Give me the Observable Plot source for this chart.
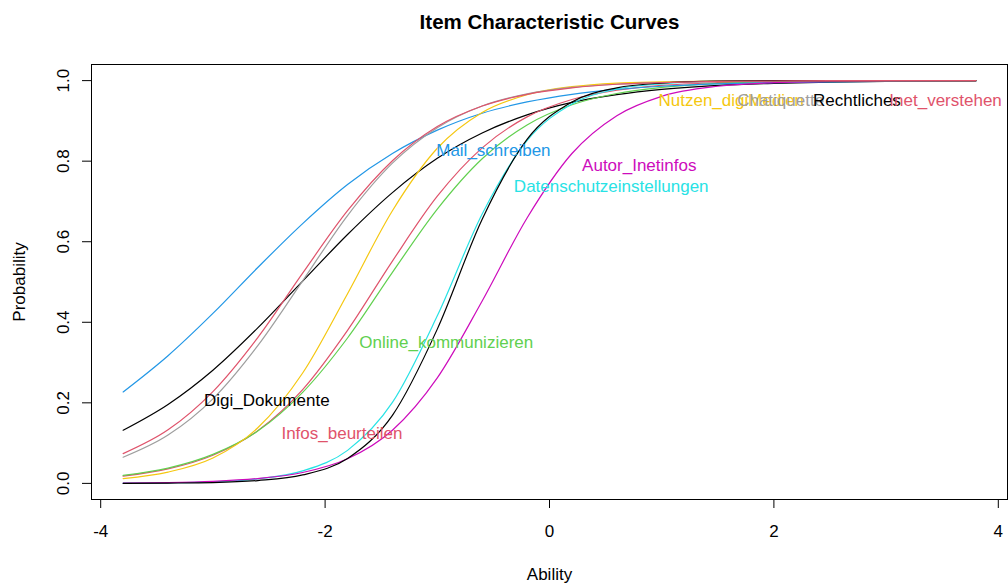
<!DOCTYPE html>
<html><head><meta charset="utf-8">
<script src="https://cdn.jsdelivr.net/npm/d3@7"></script>
<script src="https://cdn.jsdelivr.net/npm/@observablehq/plot@0.6"></script>
<style>html,body{margin:0;padding:0;background:#fff;}</style>
</head><body><div id="chart"></div>
<script>
// Ability grid (x values at which the curves were read)
const ability = [-3.8, -3.4, -3.0, -2.6, -2.2, -1.8, -1.4, -1.0, -0.6, -0.2, 0.2, 0.6, 1.0, 1.5, 2.0, 2.5, 3.0, 3.8];

const items = ["Digi_Dokumente", "Infos_beurteilen", "Online_kommunizieren", "Mail_schreiben",
  "Datenschutzeinstellungen", "Autor_Inetinfos", "Nutzen_digiMedien", "Chatiquette",
  "Rechtliches", "Inet_verstehen"];

// Probabilities, one array per item
const pDigiDokumente = [0.132, 0.196, 0.281, 0.386, 0.502, 0.618, 0.722, 0.807, 0.870, 0.915, 0.946, 0.965, 0.978, 0.988, 0.993, 0.996, 0.998, 0.999];
const pInfosBeurteilen = [0.018, 0.036, 0.070, 0.131, 0.233, 0.380, 0.552, 0.713, 0.833, 0.910, 0.953, 0.976, 0.988, 0.995, 0.998, 0.999, 1.0, 1.0];
const pOnlineKommunizieren = [0.020, 0.038, 0.072, 0.130, 0.226, 0.361, 0.524, 0.681, 0.806, 0.890, 0.940, 0.968, 0.983, 0.993, 0.997, 0.999, 0.999, 1.0];
const pMailSchreiben = [0.227, 0.317, 0.422, 0.536, 0.645, 0.742, 0.819, 0.877, 0.919, 0.947, 0.966, 0.978, 0.986, 0.992, 0.995, 0.997, 0.998, 0.999];
const pDatenschutz = [0.0005, 0.0014, 0.004, 0.011, 0.031, 0.082, 0.201, 0.416, 0.669, 0.851, 0.942, 0.979, 0.992, 0.998, 0.999, 1.0, 1.0, 1.0];
const pAutorInetinfos = [0.001, 0.002, 0.005, 0.012, 0.027, 0.061, 0.132, 0.262, 0.453, 0.659, 0.819, 0.913, 0.961, 0.986, 0.995, 0.998, 0.999, 1.0];
const pNutzenDigiMedien = [0.012, 0.028, 0.063, 0.138, 0.274, 0.471, 0.677, 0.832, 0.921, 0.965, 0.985, 0.994, 0.997, 0.999, 1.0, 1.0, 1.0, 1.0];
const pChatiquette = [0.065, 0.120, 0.210, 0.342, 0.503, 0.665, 0.795, 0.883, 0.937, 0.967, 0.983, 0.991, 0.995, 0.998, 0.999, 1.0, 1.0, 1.0];
const pRechtliches = [0.0002, 0.0008, 0.002, 0.007, 0.021, 0.062, 0.169, 0.383, 0.656, 0.854, 0.947, 0.982, 0.994, 0.999, 1.0, 1.0, 1.0, 1.0];
const pInetVerstehen = [0.074, 0.133, 0.228, 0.362, 0.522, 0.677, 0.801, 0.886, 0.937, 0.966, 0.982, 0.991, 0.995, 0.998, 0.999, 1.0, 1.0, 1.0];

// Label anchor points (data coordinates)
const labelAbility = [-2.52, -1.85, -0.92, -0.50, 0.55, 0.80, 1.62, 2.06, 2.74, 3.53];
const labelProb = [0.206, 0.124, 0.350, 0.826, 0.737, 0.790, 0.950, 0.950, 0.950, 0.950];

const xTicks = [-4, -2, 0, 2, 4];
const yTicks = [0, 0.2, 0.4, 0.6, 0.8, 1.0];

const palette = ["#000000", "#DF536B", "#61D04F", "#2297E6", "#28E2E5", "#CD0BBC", "#F5C710", "#9E9E9E", "#000000", "#DF536B"];

const series = [pDigiDokumente, pInfosBeurteilen, pOnlineKommunizieren, pMailSchreiben, pDatenschutz,
  pAutorInetinfos, pNutzenDigiMedien, pChatiquette, pRechtliches, pInetVerstehen];

const rows = items.flatMap((item, i) => ability.map((a, j) => ({item, ability: a, p: series[i][j]})));
const labels = items.map((item, i) => ({item, ability: labelAbility[i], p: labelProb[i]}));

const font = "'Liberation Sans', Arial, Helvetica, sans-serif";

const chart = Plot.plot({
  width: 1008,
  height: 583,
  marginLeft: 91,
  marginRight: 1,
  marginTop: 64,
  marginBottom: 84,
  x: {domain: [-4.082, 4.082]},
  y: {domain: [-0.04, 1.04]},
  color: {domain: items, range: palette},
  style: {fontFamily: font, fontSize: "17px", background: "#fff", color: "#000"},
  marks: [
    Plot.frame({stroke: "#000", strokeWidth: 1}),
    Plot.axisX({ticks: xTicks, tickFormat: d => String(d), tickSize: 9, tickPadding: 16, fontSize: 17, anchor: "bottom", label: null}),
    Plot.axisY({ticks: yTicks, tickSize: 9, tickFormat: () => "", anchor: "left", label: null}),
    Plot.text(yTicks, {frameAnchor: "left", y: d => d, text: d => d.toFixed(1), rotate: -90, dx: -23, lineAnchor: "bottom", textAnchor: "middle", fontSize: 17}),
    Plot.line(rows, {x: "ability", y: "p", z: "item", stroke: "item", curve: "monotone-x", strokeWidth: 1.2}),
    Plot.text(labels, {x: "ability", y: "p", text: "item", fill: "item", fontSize: 17, textAnchor: "middle", lineAnchor: "middle"}),
    Plot.text(["Item Characteristic Curves"], {frameAnchor: "top", dy: -36, lineAnchor: "bottom", fontWeight: "bold", fontSize: 20.5, text: d => d}),
    Plot.text(["Ability"], {frameAnchor: "bottom", dy: 80, lineAnchor: "bottom", fontSize: 17, text: d => d}),
    Plot.text(["Probability"], {frameAnchor: "left", dx: -72, rotate: -90, lineAnchor: "middle", textAnchor: "middle", fontSize: 17, text: d => d})
  ]
});
document.getElementById("chart").appendChild(chart);
</script>
</body></html>
